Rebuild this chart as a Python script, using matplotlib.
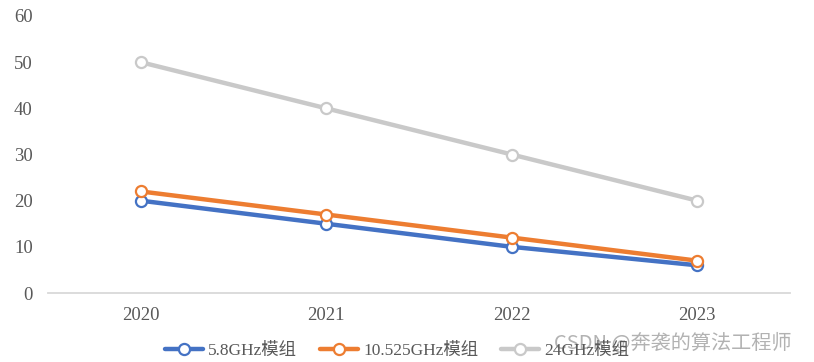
import matplotlib
matplotlib.use("Agg")
import matplotlib.pyplot as plt

plt.rcParams['font.family'] = ['Liberation Serif', 'Noto Sans CJK SC', 'DejaVu Sans']

years = ["2020", "2021", "2022", "2023"]
s58 = [20, 15, 10, 6]
s10525 = [22, 17, 12, 7]
s24 = [50, 40, 30, 20]
names = ["5.8GHz模组", "10.525GHz模组", "24GHz模组"]
colors = ["#4472C4", "#ED7D31", "#C9C9C9"]
yticks = [0, 10, 20, 30, 40, 50, 60]

fig = plt.figure(figsize=(8.14, 3.62), dpi=100)
ax = fig.add_axes([48/814, 69/362, 742/814, 277/362])
x = list(range(len(years)))
for vals, name, c in zip([s58, s10525, s24], names, colors):
    ax.plot(x, vals, color=c, lw=3.2, marker='o', ms=8, mfc='white', mec=c, mew=1.6,
            label=name, solid_capstyle='round', zorder=3)

ax.set_xlim(-0.5, 3.5)
ax.set_ylim(0, 60)
ax.set_yticks(yticks)
ax.set_xticks(x)
ax.set_xticklabels(years)
for s in ['top', 'right', 'left']:
    ax.spines[s].set_visible(False)
ax.spines['bottom'].set_color('#D9D9D9')
ax.spines['bottom'].set_linewidth(1.3)
ax.tick_params(axis='both', length=0, labelsize=13.5, colors='#595959')
ax.tick_params(axis='y', pad=11)
ax.tick_params(axis='x', pad=10)

leg = fig.legend(loc='center', bbox_to_anchor=(0.488, 0.03), ncol=3, frameon=False,
                 fontsize=12.5, handlelength=2.2, columnspacing=1.3, handletextpad=0.3)
for t in leg.get_texts():
    t.set_color('#595959')

fig.text(0.972, 0.05, "CSDN @奔袭的算法工程师", ha='right', va='center', fontsize=14.5,
         color='#999999', alpha=0.75, family=['Noto Sans CJK SC', 'DejaVu Sans'])

fig.savefig("out.png", dpi=100)
